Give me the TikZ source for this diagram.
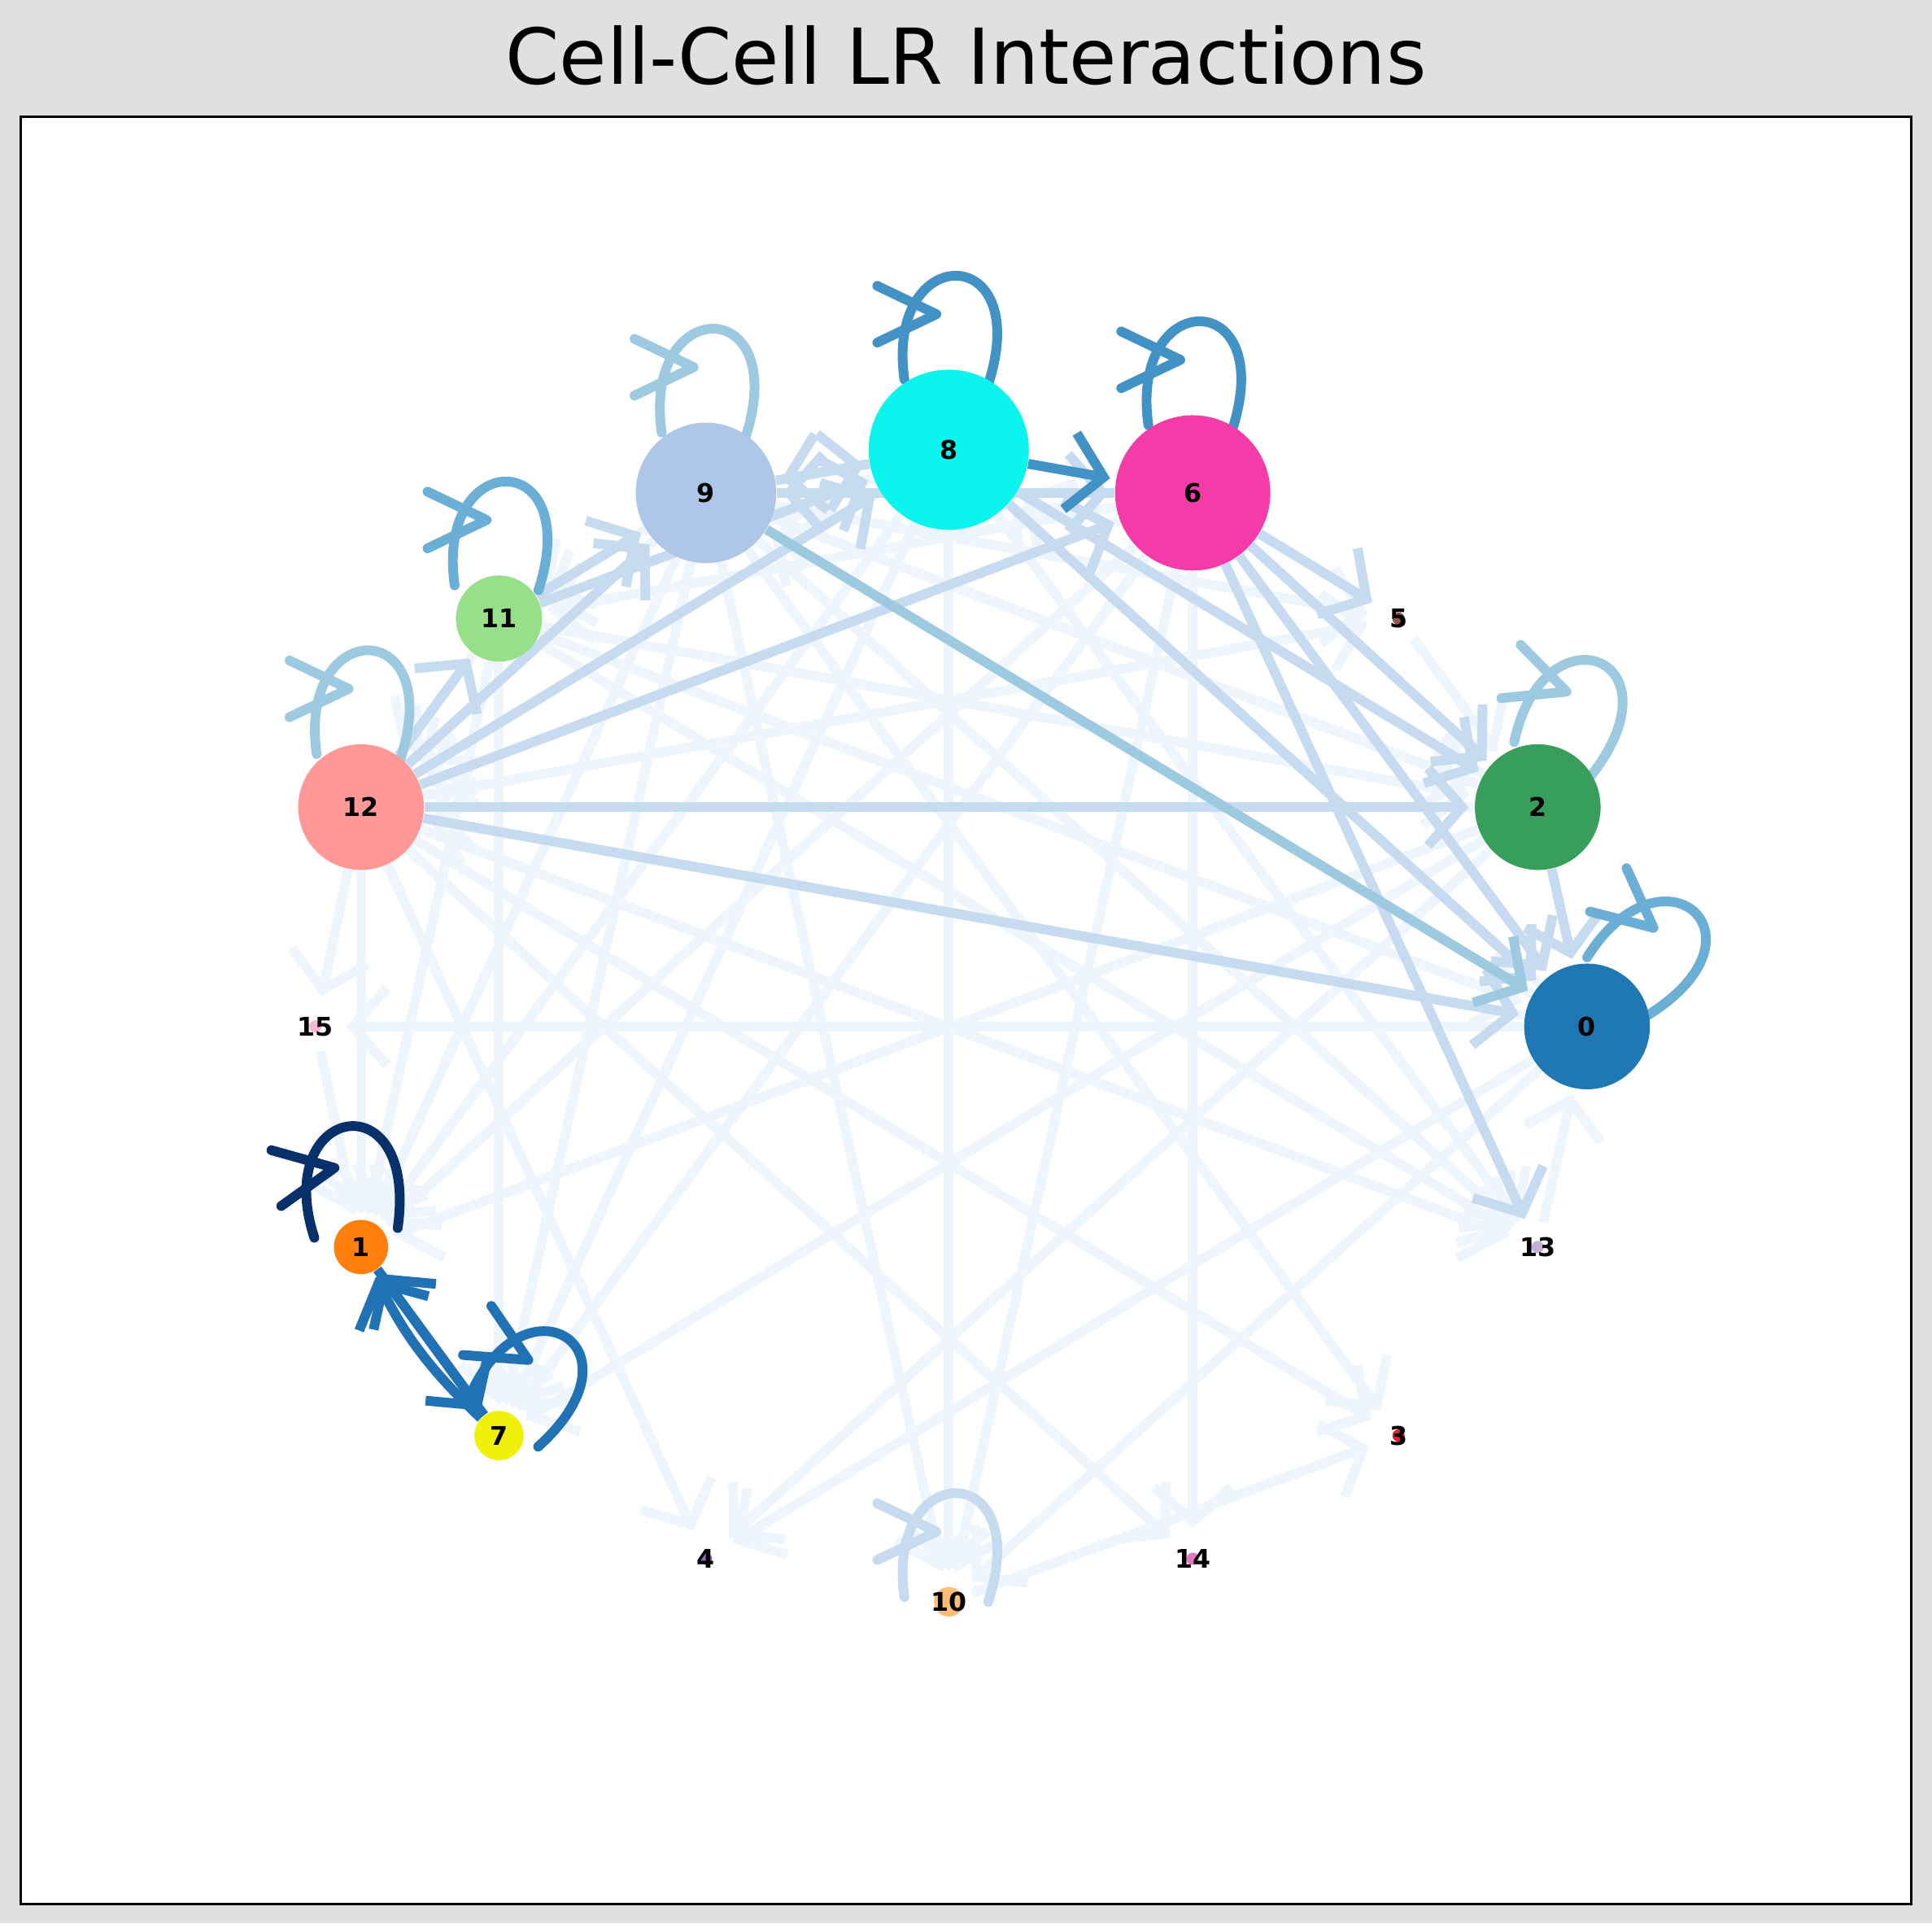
\documentclass[tikz,border=0pt]{standalone}
\usepackage{fontspec}
\setmainfont{DejaVu Sans}
\usetikzlibrary{arrows.meta}
\definecolor{c1}{HTML}{EEF5FC}
\definecolor{c2}{HTML}{DCEAF6}
\definecolor{c3}{HTML}{C6DBEF}
\definecolor{c4}{HTML}{9ECAE1}
\definecolor{c5}{HTML}{6BAED6}
\definecolor{c6}{HTML}{4292C6}
\definecolor{c7}{HTML}{2171B5}
\definecolor{c8}{HTML}{08306B}
\tikzset{
 e/.style={line width=3.4pt,draw=#1,-{Straight Barb[length=0.42cm,width=0.95cm,line width=3.4pt]},shorten >=2pt},
 lp/.style={line width=3.4pt,draw=#1,line cap=round,line join=round},
 nd/.style={circle,inner sep=0,font=\bfseries\fontsize{9}{9}\selectfont},
}
\begin{document}
\begin{tikzpicture}[x=0.01515cm,y=-0.01515cm]
\fill[black!12] (0,0) rectangle (1568,1561);
\draw[fill=white,line width=0.8pt] (17,95) rectangle (1551,1545);
\node[font=\fontsize{27}{27}\selectfont] at (784,45) {Cell-Cell LR Interactions};
% node anchors
\foreach \n/\x/\y/\d in {8/770/365/130,6/968/400/126,9/573/400/114,11/405/502/70,12/293/655/102,2/1248/655/102,0/1288/833/102,5/1135/502/40,15/256/833/40,1/293/1012/44,13/1248/1012/40,7/405/1165/40,3/1135/1165/40,4/573/1265/40,14/968/1265/40,10/770/1300/40}
  \node[nd,minimum size=\d*0.01515 cm] (n\n) at (\x,\y) {};
% light edges
\foreach \a/\b in {0/15,8/10,11/7,12/1,12/4,12/14,12/3,9/10,9/3,9/13,6/1,6/7,8/7,8/1,2/7,2/1,0/4,0/10,6/10,8/13,11/13,12/13,9/1,9/7,11/1,15/1,6/12,8/12,9/12,11/12,2/12,0/12,6/11,8/11,9/11,2/9,0/9,2/8,0/8,5/2,13/0,10/3,11/0,9/2,11/2,12/5,9/5,12/15,6/14,2/4}
  \draw[e=c1] (n\a) -- (n\b);
\foreach \a/\b in {12/2,12/0,8/2,6/2,6/0,8/0,9/6,8/9,6/9,9/8,6/5,12/11,11/9,11/8,12/9,12/8,12/6,2/0,6/13}
  \draw[e=c3] (n\a) -- (n\b);
\draw[e=c4] (n9) -- (n0);
\draw[e=c6] (n8) -- (n6);
\foreach \a/\b in {7/1,1/7}
  \draw[e=c7] (n\a) -- (n\b);
\draw[e=c7] (n7) to[bend left=10] (n1);
% self loops: x/y/r/colour/rotation
\foreach \x/\y/\r/\c/\rot in {770/365/65/c6/0,968/400/63/c6/0,573/400/57/c4/0,405/502/35/c5/0,293/655/51/c4/0,1248/655/51/c4/-20,1288/833/51/c5/-40,770/1300/12/c3/0,293/1012/22/c8/10,405/1165/20/c7/-30}{
  \begin{scope}[shift={(\x,\y)},rotate=\rot]
  \draw[lp=\c] (32,-\r+12) .. controls (70,-\r-105) and (-52,-\r-105) .. (-36,-\r+8);
  \draw[lp=\c] (-58,-\r-68) -- (-10,-\r-45) -- (-58,-\r-22);
  \end{scope}}
% node discs
\foreach \n/\x/\y/\r/\c in {8/770/365/65/0BF5EE,6/968/400/63/F43BA8,9/573/400/57/AEC7E8,11/405/502/35/98DF8A,12/293/655/51/FF9896,2/1248/655/51/389E5C,0/1288/833/51/1F77B4,5/1135/502/5/8C564B,15/256/833/5/F7B6D2,1/293/1012/22/FF7F0E,13/1248/1012/5/C5B0D5,7/405/1165/20/F0F00A,3/1135/1165/5/D62728,4/573/1265/5/9467BD,14/968/1265/5/E377C2,10/770/1300/12/FFBB78}{
  \definecolor{tmp}{HTML}{\c}
  \fill[tmp] (\x,\y) circle (\r*0.01515 cm);
  \node[font=\bfseries\fontsize{9}{9}\selectfont] at (\x,\y) {\n};
}
\end{tikzpicture}
\end{document}
